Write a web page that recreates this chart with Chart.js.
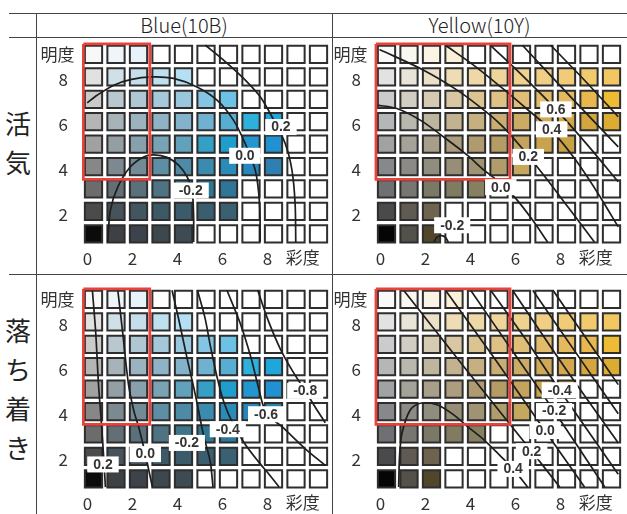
<!DOCTYPE html>
<html>
<head>
<meta charset="utf-8">
<script src="https://cdn.jsdelivr.net/npm/chart.js@4.4.1/dist/chart.umd.min.js"></script>
<style>
  body { margin: 0; background: #fff; }
  #wrap { position: relative; width: 627px; height: 514px; overflow: hidden;
          font-family: "Noto Sans CJK JP", "Noto Sans", sans-serif; color: #222; }
  .hl { position: absolute; height: 1px; background: #444; }
  .vl { position: absolute; width: 1px; background: #444; }
  .panel { position: absolute; width: 295px; height: 232px; }
  .head { position: absolute; top: 13px; height: 24px; line-height: 24px; text-align: center;
          font-size: 20px; font-weight: 300; }
  .side { position: absolute; left: 4px; width: 28px; text-align: center; font-size: 26px; line-height: 39px; }
</style>
</head>
<body>
<div id="wrap">
  <div class="head" style="left:36px;width:296px">Blue(10B)</div>
  <div class="head" style="left:332px;width:295px">Yellow(10Y)</div>
  <div class="side" style="top:103px">活<br>気</div>
  <div class="side" style="top:310px">落<br>ち<br>着<br>き</div>

  <div class="panel" style="left:37px;top:38px"><canvas id="blueLively" width="295" height="232"></canvas></div>
  <div class="panel" style="left:330px;top:38px"><canvas id="yellowLively" width="295" height="232"></canvas></div>
  <div class="panel" style="left:37px;top:283px"><canvas id="blueCalm" width="295" height="232"></canvas></div>
  <div class="panel" style="left:330px;top:283px"><canvas id="yellowCalm" width="295" height="232"></canvas></div>

  <div class="hl" style="left:9px;top:13px;width:618px"></div>
  <div class="hl" style="left:9px;top:37px;width:618px"></div>
  <div class="hl" style="left:9px;top:274px;width:618px"></div>
  <div class="vl" style="left:36px;top:13px;height:501px"></div>
  <div class="vl" style="left:332px;top:13px;height:501px"></div>
</div>

<script>
// 軸
const chromaSteps = [0, 1, 2, 3, 4, 5, 6, 7, 8, 9, 10];
const valueSteps = [9, 8, 7, 6, 5, 4, 3, 2, 1];
const chromaTicks = [0, 2, 4, 6, 8];
const valueTicks = [2, 4, 6, 8];

// セルの色 (明度 9 → 1, 彩度 0 → 10), null = 白
const W = null;
const blueColors = [
  ['#f8f8f8', '#eff5f9', '#e8f2f9', W, W, W, W, W, W, W, W],
  ['#e1e1e1', '#cfe0e7', '#c6deea', '#bfe0ef', '#b5dff3', W, W, W, W, W, W],
  ['#cacaca', '#b9c8cf', '#afc6d3', '#a5c9da', '#98c7de', '#83c5e2', '#6cc1e5', W, W, W, W],
  ['#b5b5b5', '#a6b4ba', '#9bb3bf', '#8fb3c5', '#83b3ca', '#70b1cf', '#58add3', '#2eb0dc', '#1fa6da', W, W],
  ['#a1a1a1', '#939fa5', '#87a0ac', '#79a3b5', '#62a1bb', '#34a0c6', '#1f9dcc', '#2496cf', '#2191d2', W, W],
  ['#878787', '#7d8990', '#738b97', '#5e8ea3', '#4e8aa5', '#3a8bae', '#2a8ab8', '#2786bb', '#2e80b3', W, W],
  ['#6c6c6c', '#636e75', '#5a707b', '#4f7383', '#3f7589', '#2d7795', '#2e7598', W, W, W, W],
  ['#4b4b4b', '#47535b', '#43555f', '#3e5966', '#3b5b6b', '#3a5e6f', '#3a6172', W, W, W, W],
  ['#0b0b0b', '#3d4044', '#3c434a', '#3d474e', '#3e4b53', W, W, W, W, W, W]
];
const yellowColors = [
  ['#f9f9f9', '#f9f7ef', '#faf4e4', '#fbf1d9', W, W, W, W, W, W, W],
  ['#e2e2e2', '#e8e4d8', '#ebe1c8', '#eedcb6', '#efd8a8', '#efd59b', '#efd290', '#f0cf84', '#f1cc78', '#f1ca6e', '#f2c762'],
  ['#cbcbcd', '#d1cdc3', '#d6cab2', '#d9c6a2', '#dcc392', '#dfc185', '#e1be77', '#e3bc6b', '#e5b95d', '#e8b84f', '#edbb34'],
  ['#b5b6b8', '#bab8ae', '#beb59e', '#c2b28f', '#c6b081', '#c9ad73', '#ccab65', '#d0a958', '#d3a74b', '#d6a63e', '#dcab32'],
  ['#a0a2a4', '#a4a299', '#a89f8b', '#ac9d7e', '#b09b71', '#b59b64', '#c4a35c', '#c9a24c', '#c9a243', W, W],
  ['#87888b', '#8c8a84', '#908d7e', '#968e77', '#a09373', '#b19c6b', '#c6a75e', W, W, W, W],
  ['#6f7073', '#787670', '#7c7866', '#817b62', '#877f61', W, W, W, W, W, W],
  ['#4a4a4c', '#5f5b53', '#6d634f', W, W, W, W, W, W, W, W],
  ['#050505', '#53514a', '#514629', W, W, W, W, W, W, W, W]
];

// 赤枠 [彩度min, 彩度max, 明度min, 明度max]
const blueBox = [-0.45, 2.5, 3.43, 9.47];
const yellowBox = [-0.47, 5.49, 3.43, 9.47];

// 等高線 [彩度, 明度]
const blueLivelyLevels = ['-0.2', '0.0', '0.2'];
const blueLivelyLines = [
  [[0.63, 0.63], [0.75, 2.05], [1.08, 3.09], [1.64, 3.99], [2.23, 4.43], [2.68, 4.52], [3.27, 4.41], [3.78, 4.06], [4.16, 3.54], [4.38, 2.95], [4.45, 1.76], [4.45, 0.63]],
  [[-0.28, 6.84], [0.16, 7.18], [0.9, 7.63], [1.64, 7.88], [2.6, 8.0], [3.56, 7.93], [4.6, 7.55], [5.49, 6.96], [6.22, 6.07], [6.74, 5.03], [7.19, 3.84], [7.38, 2.35], [7.41, 0.63]],
  [[4.97, 9.41], [5.78, 8.75], [6.67, 7.93], [7.41, 7.11], [7.93, 6.22], [8.52, 5.03], [8.82, 3.84], [8.96, 2.35], [8.99, 0.63]]
];
const blueLivelyLabelPos = [[4.32, 2.93], [6.73, 4.48], [8.33, 5.76]];

const yellowLivelyLevels = ['-0.2', '0.0', '0.2', '0.4', '0.6'];
const yellowLivelyLines = [
  [[2.1, 0.63], [2.25, 0.85], [2.45, 0.92], [2.62, 0.84], [2.75, 0.63]],
  [[-0.4, 6.74], [0.46, 6.59], [1.5, 6.07], [2.54, 5.32], [3.59, 4.51], [4.33, 3.84], [4.9, 3.4], [5.74, 2.58], [6.5, 1.6], [7.16, 0.63]],
  [[-0.31, 9.22], [1.65, 8.3], [3.14, 7.41], [4.33, 6.52], [5.1, 5.85], [6.0, 4.85], [7.0, 3.6], [8.1, 2.15], [9.24, 0.63]],
  [[2.62, 9.41], [3.9, 8.5], [5.08, 7.55], [6.2, 6.6], [7.34, 5.6], [8.4, 4.3], [9.4, 2.8], [10.3, 1.31]],
  [[4.62, 9.41], [6.1, 8.0], [7.53, 6.55], [8.9, 5.0], [10.3, 3.32]],
  [[6.04, 9.41], [8.1, 7.2], [10.3, 4.88]],
  [[7.3, 9.41], [8.8, 7.85], [10.3, 6.22]]
];
const yellowLivelyLabelPos = [[2.92, 1.38], [5.08, 3.08], [6.3, 4.43], [7.34, 5.66], [7.53, 6.55]];

const blueCalmLevels = ['0.2', '0.0', '-0.2', '-0.4', '-0.6', '-0.8'];
const blueCalmLines = [
  [[-0.05, 9.41], [0.1, 7.5], [0.22, 5.25], [0.35, 3.5], [0.45, 2.0], [0.53, 0.63]],
  [[1.08, 9.41], [1.3, 7.5], [1.55, 5.25], [1.8, 4.0], [2.0, 3.34], [2.3, 2.1], [2.62, 0.63]],
  [[3.49, 9.41], [3.78, 8.15], [4.16, 6.37], [4.53, 4.73], [4.89, 2.95], [5.19, 1.76], [5.31, 0.63]],
  [[4.62, 9.41], [4.95, 8.2], [5.2, 6.9], [5.5, 5.5], [5.8, 4.4], [6.2, 3.45], [6.7, 2.6], [7.3, 1.8], [7.8, 1.2], [8.25, 0.63]],
  [[5.93, 9.41], [6.52, 7.94], [7.0, 6.4], [7.35, 5.0], [7.67, 3.95], [8.4, 3.3], [9.4, 2.35], [10.3, 1.6]],
  [[7.3, 9.41], [7.75, 8.1], [8.3, 6.8], [8.85, 5.8], [9.41, 4.92], [9.85, 4.2], [10.3, 3.5]]
];
const blueCalmLabelPos = [[0.42, 1.64], [2.3, 2.1], [4.15, 2.6], [5.97, 3.21], [7.67, 3.88], [9.41, 4.92]];

const yellowCalmLevels = ['0.4', '0.2', '0.0', '-0.2', '-0.4'];
const yellowCalmLines = [
  [[0.54, 0.63], [0.58, 2.0], [0.69, 3.04], [1.06, 4.08], [1.5, 4.37], [2.25, 4.3], [2.99, 3.85], [3.59, 3.34], [4.33, 2.74], [5.08, 2.0], [5.63, 1.44], [6.27, 0.63]],
  [[0.76, 9.41], [3.6, 5.8], [6.45, 2.23], [7.7, 0.63]],
  [[2.62, 9.41], [4.85, 6.3], [7.05, 3.13], [8.8, 0.63]],
  [[3.74, 9.41], [5.6, 6.7], [7.45, 4.02], [9.7, 0.63]],
  [[4.63, 9.41], [6.2, 7.2], [7.7, 4.95], [10.3, 1.2]],
  [[5.6, 9.41], [7.9, 6.0], [10.3, 2.6]],
  [[6.5, 9.41], [8.4, 6.65], [10.3, 3.9]],
  [[7.4, 9.41], [8.85, 7.3], [10.3, 5.2]]
];
const yellowCalmLabelPos = [[5.63, 1.44], [6.45, 2.23], [7.05, 3.13], [7.45, 4.02], [7.7, 4.95]];

// ラベルと軸名を描くプラグイン
const contourLabels = {
  id: 'contourLabels',
  afterDatasetsDraw(chart, args, opts) {
    const { ctx, chartArea } = chart;
    const x = chart.scales.x, y = chart.scales.y;
    ctx.save();
    ctx.textAlign = 'center';
    ctx.textBaseline = 'middle';
    ctx.font = 'bold 14px "Liberation Sans", Arial, sans-serif';
    opts.texts.forEach((t, i) => {
      const px = x.getPixelForValue(opts.pos[i][0]);
      const py = y.getPixelForValue(opts.pos[i][1]);
      const w = ctx.measureText(t).width + 12;
      ctx.fillStyle = '#fff';
      ctx.fillRect(px - w / 2, py - 8, w, 16);
      ctx.fillStyle = '#333';
      ctx.fillText(t, px, py + 0.5);
    });
    ctx.font = '17px "Noto Sans CJK JP"';
    ctx.fillStyle = '#333';
    ctx.fillText('明度', x.getPixelForValue(0) - 36, y.getPixelForValue(9));
    ctx.fillText('彩度', x.getPixelForValue(9.3), chartArea.bottom + 13);
    ctx.restore();
  }
};

// 軸の余白を消して描画領域を固定する
function fixBox(s, key, size) {
  s[key] = size;
  s.paddingTop = 0;
  s.paddingBottom = 0;
  s.paddingLeft = 0;
  s.paddingRight = 0;
}

function buildPanel(id, colors, box, lines, levels, labelPos) {
  const cells = [];
  const fills = [];
  valueSteps.forEach((v, r) => {
    chromaSteps.forEach((c, k) => {
      cells.push({ x: c, y: v });
      fills.push(colors[r][k] || '#ffffff');
    });
  });

  const datasets = [{
    type: 'scatter',
    data: cells,
    pointStyle: 'rect',
    pointRadius: 12.2,
    pointHoverRadius: 12.2,
    pointBackgroundColor: fills,
    pointBorderColor: '#2e2e2e',
    pointBorderWidth: 2,
    order: 3
  }];

  lines.forEach(pts => {
    datasets.push({
      type: 'line',
      data: pts.map(p => ({ x: p[0], y: p[1] })),
      borderColor: '#1e1e1e',
      borderWidth: 1.7,
      pointRadius: 0,
      tension: 0.3,
      fill: false,
      order: 2
    });
  });

  datasets.push({
    type: 'line',
    data: [
      { x: box[0], y: box[3] }, { x: box[1], y: box[3] },
      { x: box[1], y: box[2] }, { x: box[0], y: box[2] },
      { x: box[0], y: box[3] }
    ],
    borderColor: '#e8423a',
    borderWidth: 2.7,
    pointRadius: 0,
    tension: 0,
    fill: false,
    order: 1
  });

  new Chart(document.getElementById(id), {
    type: 'scatter',
    data: { datasets: datasets },
    options: {
      responsive: false,
      animation: false,
      events: [],
      layout: { autoPadding: false, padding: { top: 3, right: 0, left: 0, bottom: 0 } },
      plugins: {
        legend: { display: false },
        tooltip: { enabled: false },
        contourLabels: { texts: levels, pos: labelPos }
      },
      scales: {
        x: {
          type: 'linear', min: -0.6, max: 10.6,
          grid: { display: false, drawTicks: false },
          border: { display: false },
          afterFit: s => fixBox(s, 'height', 25),
          afterBuildTicks: s => { s.ticks = chromaTicks.map(v => ({ value: v })); },
          ticks: {
            autoSkip: false, maxRotation: 0, padding: 3, labelOffset: -6,
            color: '#333', font: { size: 17, family: '"Noto Sans CJK JP"' }
          }
        },
        y: {
          type: 'linear', min: 0.5, max: 9.6,
          grid: { display: false, drawTicks: false },
          border: { display: false },
          afterFit: s => fixBox(s, 'width', 43),
          afterBuildTicks: s => { s.ticks = valueTicks.map(v => ({ value: v })); },
          ticks: {
            autoSkip: false, padding: 12, labelOffset: 3,
            color: '#333', font: { size: 17, family: '"Noto Sans CJK JP"' }
          }
        }
      }
    },
    plugins: [contourLabels]
  });
}

buildPanel('blueLively', blueColors, blueBox, blueLivelyLines, blueLivelyLevels, blueLivelyLabelPos);
buildPanel('yellowLively', yellowColors, yellowBox, yellowLivelyLines, yellowLivelyLevels, yellowLivelyLabelPos);
buildPanel('blueCalm', blueColors, blueBox, blueCalmLines, blueCalmLevels, blueCalmLabelPos);
buildPanel('yellowCalm', yellowColors, yellowBox, yellowCalmLines, yellowCalmLevels, yellowCalmLabelPos);
</script>
</body>
</html>
